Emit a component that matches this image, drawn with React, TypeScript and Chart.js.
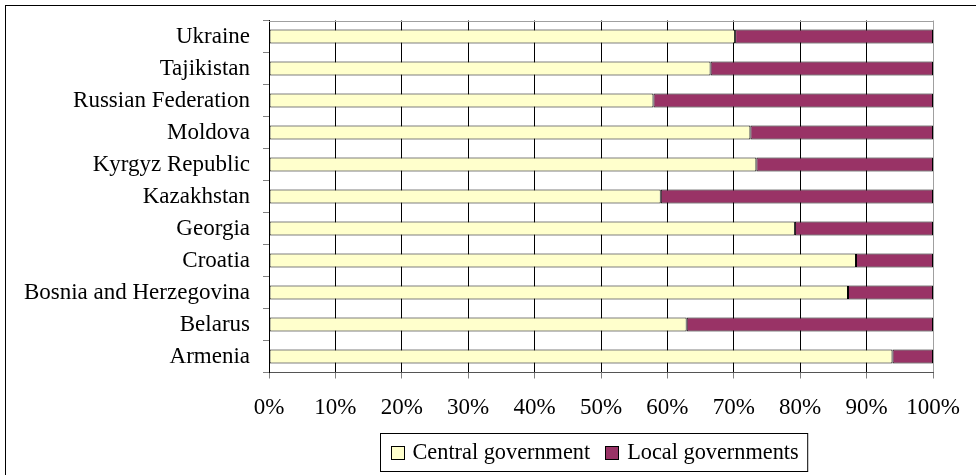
import React, { useEffect, useRef } from "react";
import { Chart, registerables } from "chart.js";

Chart.register(...registerables);

const categories = [
  "Ukraine",
  "Tajikistan",
  "Russian Federation",
  "Moldova",
  "Kyrgyz Republic",
  "Kazakhstan",
  "Georgia",
  "Croatia",
  "Bosnia and Herzegovina",
  "Belarus",
  "Armenia",
];

const centralGovernment = [70.2, 66.5, 57.9, 72.5, 73.4, 59.0, 79.2, 88.4, 87.2, 62.9, 93.9];
const localGovernments = [29.8, 33.5, 42.1, 27.5, 26.6, 41.0, 20.8, 11.6, 12.8, 37.1, 6.1];

const seriesLabels = ["Central government", "Local governments"];
const tickValues = [0, 10, 20, 30, 40, 50, 60, 70, 80, 90, 100];

const FONT = '"Liberation Serif", "Times New Roman", serif';
const AXIS_FONT_SIZE = 23;
const LEGEND_FONT_SIZE = 22.3;

const framePlugin = {
  id: "frame",
  beforeDatasetsDraw(chart: any) {
    const { ctx, chartArea } = chart;
    ctx.save();
    ctx.strokeStyle = "#a0a0a0";
    ctx.lineWidth = 1;
    ctx.beginPath();
    ctx.moveTo(chartArea.left, Math.round(chartArea.top) + 0.5);
    ctx.lineTo(chartArea.right, Math.round(chartArea.top) + 0.5);
    ctx.stroke();
    ctx.restore();
  },
  afterDraw(chart: any) {
    const ctx = chart.ctx;
    ctx.save();
    // outer chart border
    ctx.strokeStyle = "#000";
    ctx.lineWidth = 1;
    ctx.strokeRect(5.5, 5.5, 1100, 1100);

    // boxed legend
    ctx.font = `${LEGEND_FONT_SIZE}px ${FONT}`;
    const items = chart.data.datasets.map((ds: any) => ({
      label: ds.label,
      color: ds.backgroundColor,
      w: ctx.measureText(ds.label).width,
    }));
    const sq = 13;
    const gapSqText = 9;
    const gapItems = 15;
    const padL = 10;
    const padR = 9;
    let width = padL + padR;
    items.forEach((it: any, i: number) => {
      width += sq + gapSqText + it.w + (i > 0 ? gapItems : 0);
    });
    const left = 380.5;
    const top = 433.5;
    const height = 38;
    ctx.strokeStyle = "#000";
    ctx.fillStyle = "#fff";
    ctx.fillRect(left, top, width, height);
    ctx.strokeRect(left, top, width, height);
    const cy = top + height / 2;
    let x = left + padL;
    ctx.textBaseline = "middle";
    ctx.textAlign = "left";
    items.forEach((it: any, i: number) => {
      if (i > 0) x += gapItems;
      ctx.fillStyle = it.color;
      const sx = Math.round(x) + 0.5;
      const sy = Math.round(cy - sq / 2) + 0.5;
      ctx.fillRect(sx, sy, sq, sq);
      ctx.strokeStyle = "#000";
      ctx.strokeRect(sx, sy, sq, sq);
      x += sq + gapSqText;
      ctx.fillStyle = "#000";
      ctx.fillText(it.label, x, cy + 1);
      x += it.w;
    });
    ctx.restore();
  },
};

export default function App() {
  const canvasRef = useRef<HTMLCanvasElement | null>(null);

  useEffect(() => {
    document.body.style.margin = "0";
    const canvas = canvasRef.current;
    if (!canvas) return;
    const chart = new Chart(canvas, {
      type: "bar",
      data: {
        labels: categories,
        datasets: [
          {
            label: seriesLabels[0],
            data: centralGovernment,
            backgroundColor: "#FFFFCC",
            borderColor: "#000",
            borderWidth: 1,
            borderSkipped: false,
            categoryPercentage: 1,
            barPercentage: 0.44,
          },
          {
            label: seriesLabels[1],
            data: localGovernments,
            backgroundColor: "#993366",
            borderColor: "#000",
            borderWidth: 1,
            borderSkipped: false,
            categoryPercentage: 1,
            barPercentage: 0.44,
          },
        ],
      },
      options: {
        indexAxis: "y",
        responsive: false,
        animation: false,
        events: [],
        layout: { padding: { top: 20.5, right: 43, bottom: 0, left: 0 } },
        plugins: {
          legend: { display: false },
          tooltip: { enabled: false },
          title: { display: false },
        },
        scales: {
          x: {
            stacked: true,
            min: 0,
            max: 100,
            afterBuildTicks: (scale: any) => {
              scale.ticks = tickValues.map((v) => ({ value: v }));
            },
            afterFit: (scale: any) => {
              scale.height = 102.5;
            },
            ticks: {
              font: { family: FONT, size: AXIS_FONT_SIZE },
              color: "#000",
              padding: 16,
              maxRotation: 0,
              autoSkip: false,
              callback: (v: any) => `${v}%`,
            },
            grid: {
              color: (c: any) => (c.tick && c.tick.value === 100 ? "#a0a0a0" : "#000"),
              tickColor: "#808080",
              tickLength: 6,
              drawTicks: true,
            },
            border: { display: true, color: "#555", width: 1 },
          },
          y: {
            stacked: true,
            afterFit: (scale: any) => {
              scale.width = 269;
              scale.paddingTop = 0;
              scale.paddingBottom = 0;
            },
            ticks: {
              font: { family: FONT, size: AXIS_FONT_SIZE },
              color: "#000",
              padding: 13,
              autoSkip: false,
            },
            grid: {
              offset: true,
              drawOnChartArea: false,
              drawTicks: true,
              tickLength: 6,
              tickColor: "#808080",
            },
            border: { display: true, color: "#000", width: 1 },
          },
        },
      },
      plugins: [framePlugin],
    });
    return () => chart.destroy();
  }, []);

  return (
    <canvas
      ref={canvasRef}
      width={976}
      height={475}
      style={{ display: "block", width: "976px", height: "475px" }}
    />
  );
}
